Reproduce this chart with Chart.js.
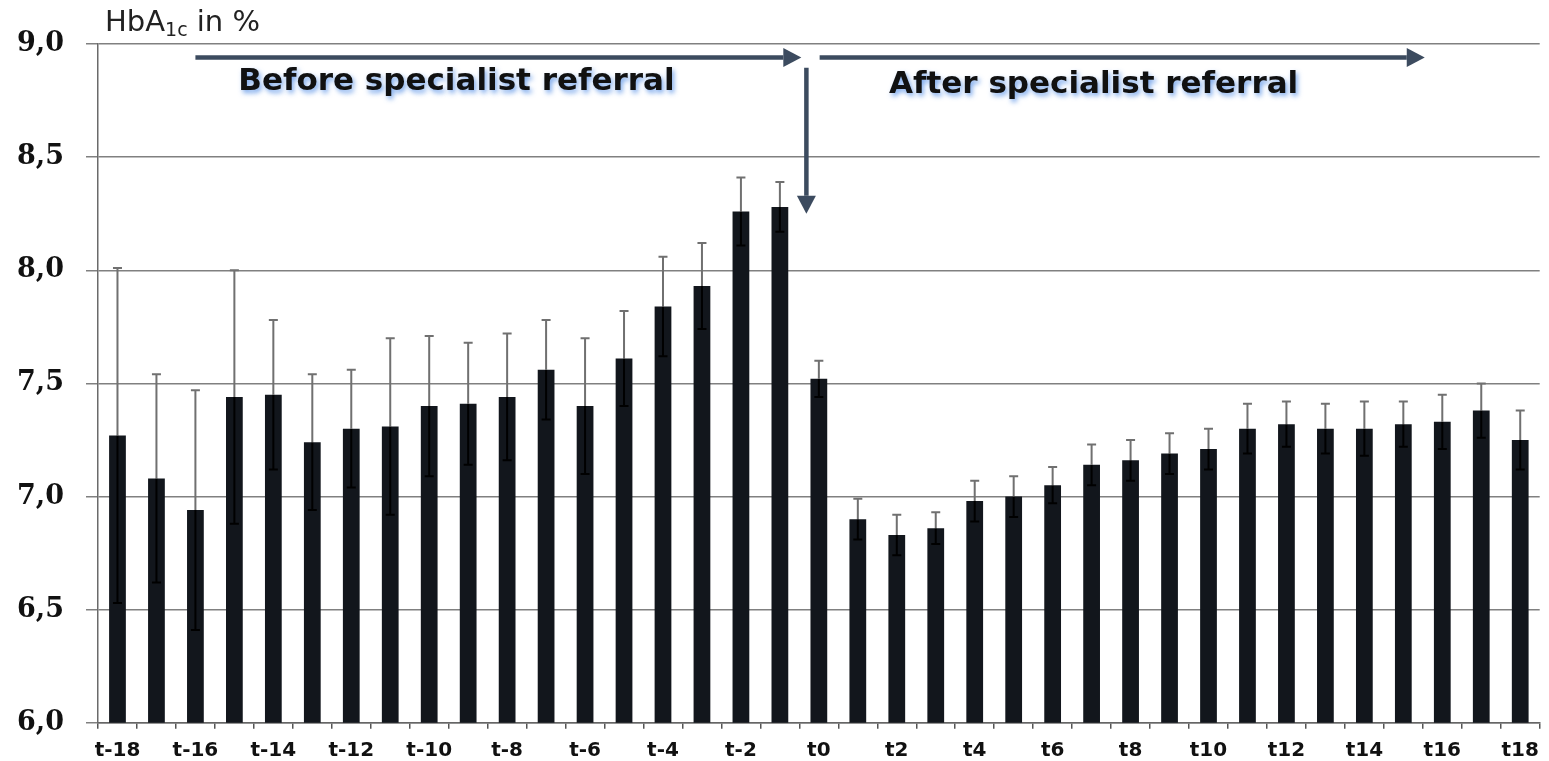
<!DOCTYPE html>
<html>
<head>
<meta charset="utf-8">
<script src="https://cdn.jsdelivr.net/npm/chart.js@4.4.1/dist/chart.umd.min.js"></script>
<style>
  html, body { margin: 0; padding: 0; background: #fff; }
  #wrap { width: 1549px; height: 761px; }
</style>
</head>
<body>
<div id="wrap"><canvas id="hba1c-chart" width="1549" height="761"></canvas></div>
<script>
// Quarterly HbA1c around the referral quarter t0
const periods = [
  "t-18", "t-17", "t-16", "t-15", "t-14", "t-13", "t-12", "t-11", "t-10",
  "t-9", "t-8", "t-7", "t-6", "t-5", "t-4", "t-3", "t-2", "t-1", "t0",
  "t1", "t2", "t3", "t4", "t5", "t6", "t7", "t8", "t9", "t10",
  "t11", "t12", "t13", "t14", "t15", "t16", "t17", "t18",
];

const meanHbA1c = [
  7.27, 7.08, 6.94, 7.44, 7.45, 7.24, 7.30, 7.31, 7.40,
  7.41, 7.44, 7.56, 7.40, 7.61, 7.84, 7.93, 8.26, 8.28, 7.52,
  6.90, 6.83, 6.86, 6.98, 7.00, 7.05, 7.14, 7.16, 7.19, 7.21,
  7.30, 7.32, 7.30, 7.30, 7.32, 7.33, 7.38, 7.25,
];

const sdHbA1c = [
  0.74, 0.46, 0.53, 0.56, 0.33, 0.30, 0.26, 0.39, 0.31,
  0.27, 0.28, 0.22, 0.30, 0.21, 0.22, 0.19, 0.15, 0.11, 0.08,
  0.09, 0.09, 0.07, 0.09, 0.09, 0.08, 0.09, 0.09, 0.09, 0.09,
  0.11, 0.10, 0.11, 0.12, 0.10, 0.12, 0.12, 0.13,
];

const ARROW_COLOR = "#3c4b5f";

// Period arrows, positioned in category index / HbA1c units
const phaseArrows = [
  { from: 2.0, to: 17.55, at: 8.94 },
  { from: 18.02, to: 33.55, at: 8.94 },
];
const referralArrow = { at: 17.68, from: 8.895, to: 8.25 };
const phaseLabels = [
  { text: "Before specialist referral", at: 3.1, value: 8.795 },
  { text: "After specialist referral", at: 19.8, value: 8.782 },
];

function drawArrow(ctx, x1, y1, x2, y2) {
  const ang = Math.atan2(y2 - y1, x2 - x1);
  const headLen = 18;
  const headHalf = 9.5;
  const bx = x2 - Math.cos(ang) * headLen;
  const by = y2 - Math.sin(ang) * headLen;
  ctx.beginPath();
  ctx.moveTo(x1, y1);
  ctx.lineTo(bx, by);
  ctx.stroke();
  ctx.beginPath();
  ctx.moveTo(x2, y2);
  ctx.lineTo(bx - Math.sin(ang) * headHalf, by + Math.cos(ang) * headHalf);
  ctx.lineTo(bx + Math.sin(ang) * headHalf, by - Math.cos(ang) * headHalf);
  ctx.closePath();
  ctx.fill();
}

// SD whiskers: the lower half runs down inside the bar, the upper half is grey
const errorBarPlugin = {
  id: "errorBars",
  afterDatasetsDraw(chart) {
    const { ctx } = chart;
    const y = chart.scales.y;
    const meta = chart.getDatasetMeta(0);
    const capHalf = 4.5;
    ctx.save();
    ctx.lineWidth = 2;
    meta.data.forEach((bar, i) => {
      const hi = y.getPixelForValue(meanHbA1c[i] + sdHbA1c[i]);
      const lo = y.getPixelForValue(meanHbA1c[i] - sdHbA1c[i]);
      ctx.strokeStyle = "#000000";
      ctx.beginPath();
      ctx.moveTo(bar.x, bar.y);
      ctx.lineTo(bar.x, lo);
      ctx.moveTo(bar.x - capHalf, lo);
      ctx.lineTo(bar.x + capHalf, lo);
      ctx.stroke();
      ctx.strokeStyle = "#707070";
      ctx.beginPath();
      ctx.moveTo(bar.x, bar.y);
      ctx.lineTo(bar.x, hi);
      ctx.moveTo(bar.x - capHalf, hi);
      ctx.lineTo(bar.x + capHalf, hi);
      ctx.stroke();
    });
    ctx.restore();
  },
};

const annotationPlugin = {
  id: "referralNotes",
  afterDraw(chart) {
    const { ctx } = chart;
    const { x, y } = chart.scales;

    // axis title with subscript
    ctx.save();
    ctx.fillStyle = "#222";
    ctx.textBaseline = "alphabetic";
    ctx.font = "29px 'DejaVu Sans'";
    let tx = 105;
    ctx.fillText("HbA", tx, 31);
    tx += ctx.measureText("HbA").width;
    ctx.font = "19px 'DejaVu Sans'";
    ctx.fillText("1c", tx, 36);
    tx += ctx.measureText("1c").width;
    ctx.font = "29px 'DejaVu Sans'";
    ctx.fillText(" in %", tx, 31);
    ctx.restore();

    // arrows
    ctx.save();
    ctx.strokeStyle = ARROW_COLOR;
    ctx.fillStyle = ARROW_COLOR;
    ctx.lineWidth = 4.5;
    phaseArrows.forEach((a) => {
      const py = y.getPixelForValue(a.at);
      drawArrow(ctx, x.getPixelForValue(a.from), py, x.getPixelForValue(a.to), py);
    });
    const rx = x.getPixelForValue(referralArrow.at);
    drawArrow(ctx, rx, y.getPixelForValue(referralArrow.from), rx, y.getPixelForValue(referralArrow.to));
    ctx.restore();

    // phase captions with a soft blue glow
    ctx.save();
    ctx.font = "bold 31px 'DejaVu Sans'";
    ctx.fillStyle = "#111";
    ctx.textBaseline = "alphabetic";
    ctx.shadowColor = "rgba(80, 140, 230, 0.75)";
    ctx.shadowBlur = 5;
    ctx.shadowOffsetX = 2;
    ctx.shadowOffsetY = 3;
    phaseLabels.forEach((l) => {
      ctx.fillText(l.text, x.getPixelForValue(l.at), y.getPixelForValue(l.value));
    });
    ctx.restore();
  },
};

const ctx = document.getElementById("hba1c-chart").getContext("2d");

new Chart(ctx, {
  type: "bar",
  data: {
    labels: periods,
    datasets: [
      {
        label: "HbA1c",
        data: meanHbA1c,
        backgroundColor: "#12161c",
        borderWidth: 0,
        barPercentage: 0.43,
        categoryPercentage: 1.0,
      },
    ],
  },
  options: {
    responsive: false,
    animation: false,
    layout: { padding: { top: 44, right: 6, left: 0, bottom: 0 } },
    plugins: {
      legend: { display: false },
      tooltip: { enabled: false },
    },
    scales: {
      x: {
        offset: true,
        afterFit: (scale) => { scale.height = 34; },
        grid: {
          offset: true,
          drawOnChartArea: false,
          tickLength: 6,
          color: "#555",
          lineWidth: 1.5,
        },
        border: { color: "#666", width: 1.5 },
        ticks: {
          autoSkip: false,
          maxRotation: 0,
          padding: 10,
          color: "#111",
          font: { family: "DejaVu Sans", size: 20, weight: "bold" },
          callback(value, index) {
            return index % 2 === 0 ? this.getLabelForValue(value) : "";
          },
        },
      },
      y: {
        min: 6,
        max: 9,
        afterFit: (scale) => { scale.width = 98; },
        grid: {
          color: "#808080",
          lineWidth: 1.5,
          tickLength: 12,
        },
        border: { color: "#6a6a6a", width: 1.5 },
        ticks: {
          stepSize: 0.5,
          padding: 22,
          color: "#111",
          font: { family: "DejaVu Serif", size: 27, weight: "bold" },
          callback: (v) => v.toFixed(1).replace(".", ","),
        },
      },
    },
  },
  plugins: [errorBarPlugin, annotationPlugin],
});
</script>
</body>
</html>
